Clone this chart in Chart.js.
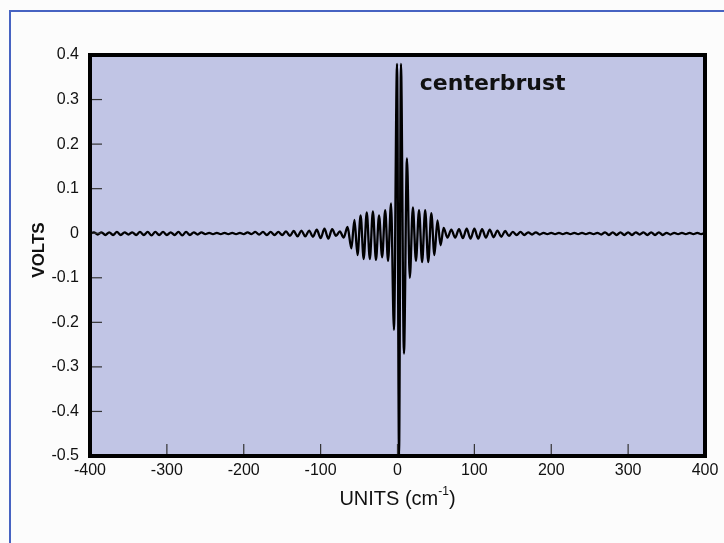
<!DOCTYPE html>
<html lang="en">
<head>
<meta charset="UTF-8">
<title>Interferogram centerburst</title>
<script src="https://cdn.jsdelivr.net/npm/chart.js"></script>
<style>
  html, body { margin: 0; padding: 0; background: #fcfcfc; }
  .wrap { position: relative; width: 724px; height: 543px; overflow: hidden; }
  .frame {
    position: absolute; left: 9px; top: 10px; width: 800px; height: 600px;
    border-top: 2px solid #4763c2; border-left: 2px solid #4763c2;
  }
  canvas { position: absolute; left: 0; top: 0; }
</style>
</head>
<body>
<div class="wrap">
  <div class="frame"></div>
  <canvas id="ifg" width="724" height="543"></canvas>
</div>
<script>
// far left wing, -400 .. -65 (cm-1)
const xLeft = [
  -400,-395,-390,-385,-380,-375,-370,-365,-360,-355,
  -350,-345,-340,-335,-330,-325,-320,-315,-310,-305,
  -300,-295,-290,-285,-280,-275,-270,-265,-260,-255,
  -250,-245,-240,-235,-230,-225,-220,-215,-210,-205,
  -200,-195,-190,-185,-180,-175,-170,-165,-160,-155,
  -150,-145,-140,-135,-130,-125,-120,-115,-110,-105,
  -100,-95,-90,-85,-80,-75,-70,-65
];
const vLeft = [
  -0.002,0.002,-0.003,0.002,-0.004,0.002,-0.004,0.003,-0.004,0.002,
  -0.003,0.002,-0.004,0.003,-0.004,0.003,-0.005,0.003,-0.004,0.003,
  -0.004,0.002,-0.004,0.003,-0.005,0.003,-0.004,0.002,-0.003,0.002,
  -0.002,0.001,-0.002,0.001,-0.002,0.001,-0.002,0.001,-0.002,0.001,
  -0.002,0.002,-0.002,0.003,-0.003,0.003,-0.004,0.003,-0.004,0.003,
  -0.004,0.004,-0.006,0.005,-0.007,0.006,-0.007,0.006,-0.008,0.008,
  -0.011,0.010,-0.012,0.009,-0.006,0.004,-0.010,0.014
];

// side lobes and centerburst, -60 .. 60
const xBurst = [
  -60,-56,-52,-48,-44,-40,-36,-32,-28,-24,-20,-16,-12.3,-8.4,-4.6,-0.6,
  2,4.5,8.4,12.3,16,20,24,28,32,36,40,44,48,52,56,60
];
const vBurst = [
  -0.034,0.030,-0.049,0.040,-0.058,0.047,-0.058,0.049,-0.060,0.040,-0.054,0.052,-0.062,0.067,-0.217,0.38,
  -0.50,0.38,-0.27,0.168,-0.10,0.058,-0.062,0.052,-0.065,0.052,-0.065,0.045,-0.049,0.029,-0.027,0.012
];

// right wing, 65 .. 400
const xRight = [
  65,70,75,80,85,90,95,100,105,110,
  115,120,125,130,135,140,145,150,155,160,
  165,170,175,180,185,190,195,200,205,210,
  215,220,225,230,235,240,245,250,255,260,
  265,270,275,280,285,290,295,300,305,310,
  315,320,325,330,335,340,345,350,355,360,
  365,370,375,380,385,390,395,400
];
const vRight = [
  -0.010,0.008,-0.010,0.009,-0.011,0.010,-0.012,0.010,-0.012,0.009,
  -0.010,0.008,-0.009,0.006,-0.008,0.005,-0.006,0.003,-0.004,0.003,
  -0.004,0.002,-0.003,0.002,-0.003,0.001,-0.002,0.001,-0.002,0.001,
  -0.002,0.001,-0.002,0.001,-0.002,0.001,-0.002,0.001,-0.002,0.001,
  -0.003,0.002,-0.004,0.002,-0.004,0.002,-0.004,0.002,-0.004,0.002,
  -0.003,0.002,-0.004,0.002,-0.004,0.002,-0.004,0.001,-0.003,0.001,
  -0.002,0.001,-0.002,0.001,-0.002,0.001,-0.002,0.001
];

const xTickLabels = ['-400','-300','-200','-100','0','100','200','300','400'];
const yTickLabels = ['-0.5','-0.4','-0.3','-0.2','-0.1','0','0.1','0.2','0.3','0.4'];

const wavenumbers = xLeft.concat(xBurst, xRight);
const volts = vLeft.concat(vBurst, vRight);
const points = wavenumbers.map((x, i) => ({ x: x, y: volts[i] }));

const labelFamily = '"Liberation Sans", Arial, sans-serif';

// lavender plot background, black frame, inward tick marks, titles
const decorations = {
  id: 'decorations',
  beforeDatasetsDraw(chart) {
    const a = chart.chartArea, ctx = chart.ctx;
    ctx.save();
    ctx.fillStyle = '#c1c5e5';
    ctx.fillRect(a.left, a.top, a.right - a.left, a.bottom - a.top);
    ctx.restore();
  },
  afterDatasetsDraw(chart) {
    const a = chart.chartArea, ctx = chart.ctx;
    const xs = chart.scales.x, ys = chart.scales.y;
    ctx.save();
    ctx.strokeStyle = '#333';
    ctx.lineWidth = 1.2;
    xs.ticks.forEach(t => {
      const px = xs.getPixelForValue(t.value);
      ctx.beginPath();
      ctx.moveTo(px, a.bottom);
      ctx.lineTo(px, a.bottom - 12);
      ctx.stroke();
    });
    ys.ticks.forEach(t => {
      const py = ys.getPixelForValue(t.value);
      ctx.beginPath();
      ctx.moveTo(a.left, py);
      ctx.lineTo(a.left + 12, py);
      ctx.stroke();
    });
    ctx.strokeStyle = '#000';
    ctx.lineWidth = 4;
    ctx.strokeRect(a.left, a.top, a.right - a.left, a.bottom - a.top);

    // annotation
    ctx.fillStyle = '#111';
    ctx.font = 'bold 22px "DejaVu Sans", Verdana, sans-serif';
    ctx.textAlign = 'left';
    ctx.textBaseline = 'alphabetic';
    ctx.fillText('centerbrust', xs.getPixelForValue(29), ys.getPixelForValue(0.322));

    // y title
    ctx.save();
    ctx.translate(39, 250);
    ctx.rotate(-Math.PI / 2);
    ctx.font = 'bold 17px ' + labelFamily;
    ctx.textAlign = 'center';
    ctx.textBaseline = 'middle';
    ctx.fillText('VOLTS', 0, 0);
    ctx.restore();

    // x title with superscript
    const main = 'UNITS (cm', sup = '-1', tail = ')';
    const big = '20px ' + labelFamily, small = '12px ' + labelFamily;
    ctx.font = big;
    const w1 = ctx.measureText(main).width, w3 = ctx.measureText(tail).width;
    ctx.font = small;
    const w2 = ctx.measureText(sup).width;
    const x0 = (a.left + a.right) / 2 - (w1 + w2 + w3) / 2;
    ctx.textAlign = 'left';
    ctx.textBaseline = 'alphabetic';
    ctx.font = big;
    ctx.fillText(main, x0, 505);
    ctx.font = small;
    ctx.fillText(sup, x0 + w1, 495);
    ctx.font = big;
    ctx.fillText(tail, x0 + w1 + w2, 505);
    ctx.restore();
  }
};

new Chart(document.getElementById('ifg'), {
  type: 'line',
  data: {
    datasets: [{
      data: points,
      borderColor: '#000',
      borderWidth: 2.3,
      pointRadius: 0,
      cubicInterpolationMode: 'monotone',
      fill: false
    }]
  },
  options: {
    responsive: false,
    animation: false,
    layout: { padding: { left: 0, top: 55, right: 19, bottom: 0 } },
    plugins: { legend: { display: false }, tooltip: { enabled: false } },
    scales: {
      x: {
        type: 'linear', min: -400, max: 400,
        grid: { display: false, drawTicks: false },
        border: { display: false },
        ticks: {
          stepSize: 100, padding: 5, color: '#111', maxRotation: 0,
          font: { family: labelFamily, size: 16 },
          callback: (v, i) => xTickLabels[i]
        },
        afterFit(s) { s.height = 87; }
      },
      y: {
        type: 'linear', min: -0.5, max: 0.4,
        grid: { display: false, drawTicks: false },
        border: { display: false },
        ticks: {
          stepSize: 0.1, padding: 11, color: '#111',
          font: { family: labelFamily, size: 16 },
          callback: (v, i) => yTickLabels[i]
        },
        afterFit(s) { s.width = 90; }
      }
    }
  },
  plugins: [decorations]
});
</script>
</body>
</html>
